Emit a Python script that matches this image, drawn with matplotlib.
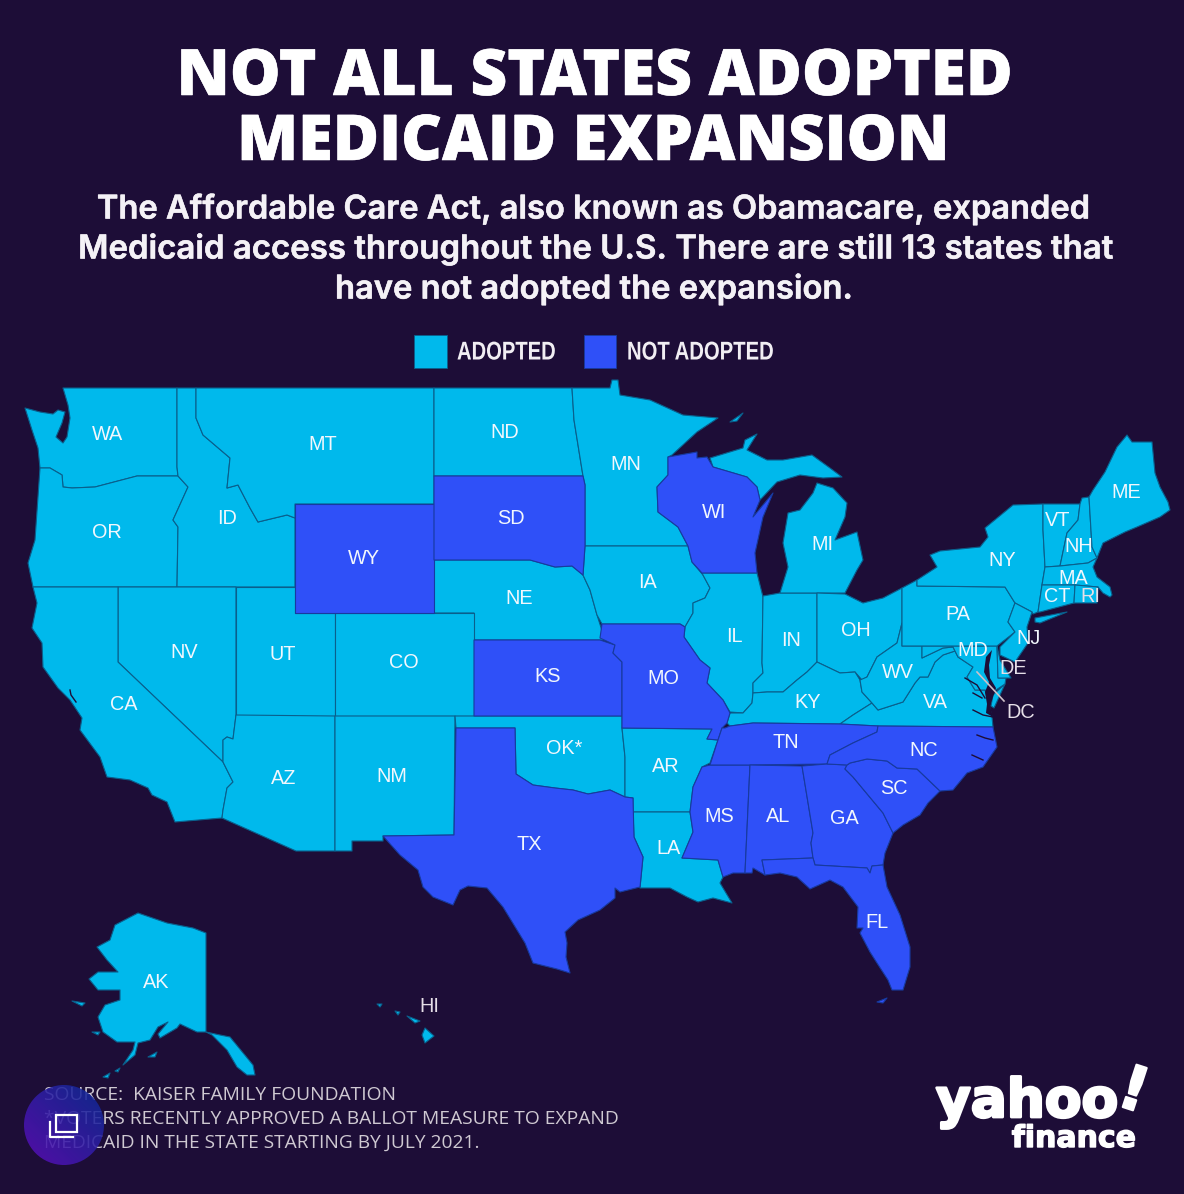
import numpy as np
import matplotlib
matplotlib.use("Agg")
import matplotlib.pyplot as plt
from matplotlib.patches import Polygon, Rectangle, Circle
from matplotlib.patheffects import AbstractPathEffect, withStroke
from matplotlib.transforms import Affine2D

BG = "#1d0d37"
CYAN = "#00b9ec"
BLUE = "#2f50f8"
EDGE_C = "#0a5f8c"
EDGE_B = "#173a9f"

# ---- state outlines (x, y in image pixels) ----
WA = [(63,388),(177,388),(177,467),(178,476),(137,476),(95,487),(72,488),(63,487),(62,475),(50,468),(40,468),(38,448),(32,430),(25,408),(40,412),(53,414),(58,410),(65,412),(62,423),(56,437),(63,443),(67,437),(70,418),(68,405)]
OR = [(40,468),(50,468),(62,475),(63,487),(72,488),(95,487),(137,476),(178,476),(188,487),(173,520),(178,527),(177,587),(33,587),(28,563),(35,540)]
ID = [(177,388),(196,388),(196,418),(203,435),(230,458),(227,488),(238,485),(250,508),(258,522),(287,515),(295,518),(295,587),(177,587),(178,527),(173,520),(188,487),(178,476),(177,467)]
MT = [(196,388),(434,388),(434,504),(295,504),(295,518),(287,515),(258,522),(250,508),(238,485),(227,488),(230,458),(203,435),(196,418)]
WY = [(295,504),(434,504),(434,613),(295,613)]
ND = [(434,388),(572,388),(574,420),(583,476),(434,476)]
SD = [(434,476),(583,476),(585,485),(585,546),(583,575),(572,566),(555,567),(530,560),(434,560)]
NE = [(434,560),(530,560),(555,567),(572,566),(583,575),(590,590),(597,615),(605,640),(474,640),(474,613),(434,613)]
MN = [(572,388),(610,388),(612,380),(618,380),(620,395),(650,400),(683,415),(718,418),(697,432),(672,455),(668,457),(668,475),(657,487),(658,512),(678,527),(688,546),(585,546),(585,485),(583,476),(574,420)]
IA = [(585,546),(688,546),(692,562),(703,575),(710,588),(705,598),(693,603),(693,613),(685,627),(680,624),(602,624),(597,615),(590,590),(583,575)]
WI = [(668,457),(697,452),(697,458),(707,457),(713,467),(747,477),(757,487),(760,500),(753,517),(773,493),(763,517),(755,553),(757,573),(702,573),(692,562),(688,546),(678,527),(658,512),(657,487),(668,475)]
IL = [(702,573),(757,573),(763,597),(762,663),(763,673),(753,683),(753,693),(752,703),(743,713),(730,712),(723,700),(707,683),(710,668),(700,660),(684,637),(685,627),(693,613),(693,603),(705,598),(710,588),(703,575)]
IN = [(763,596),(780,593),(817,593),(817,662),(807,672),(797,680),(783,692),(767,692),(753,693),(753,683),(763,673),(762,663)]
MI_L = [(780,593),(788,567),(783,543),(788,513),(800,510),(813,493),(817,483),(833,488),(847,503),(845,517),(835,540),(857,532),(863,560),(857,570),(845,593),(817,593)]
MI_U = [(710,458),(743,448),(745,440),(757,434),(747,450),(767,460),(783,460),(812,455),(830,468),(842,477),(823,478),(800,475),(777,482),(760,500),(757,487),(747,477),(713,467)]
MI_I = [(730,422),(743,413),(737,421)]
OH = [(817,593),(845,594),(863,603),(883,598),(902,588),(902,623),(897,643),(877,657),(867,677),(862,680),(855,672),(840,673),(817,662)]
KY = [(730,713),(727,723),(730,726),(753,723),(840,724),(853,715),(872,703),(862,692),(860,680),(855,672),(840,673),(817,662),(807,672),(797,680),(783,692),(767,692),(753,693),(752,703),(743,713)]
NV = [(118,587),(236,587),(236,715),(233,739),(227,737),(223,740),(223,762),(118,662)]
CA = [(33,587),(118,587),(118,662),(223,762),(233,782),(227,788),(223,810),(222,818),(175,822),(167,802),(152,795),(148,788),(130,780),(107,777),(100,757),(80,730),(82,718),(70,700),(58,688),(43,667),(42,643),(32,628),(37,603)]
UT = [(236,587),(295,587),(295,613),(335,613),(335,716),(236,716)]
CO = [(335,613),(474,613),(474,716),(335,716)]
AZ = [(236,715),(335,716),(335,851),(296,851),(222,818),(223,810),(227,788),(233,782),(223,762),(223,740),(227,737),(233,739)]
NM = [(335,716),(455,716),(454,835),(383,836),(383,841),(352,841),(352,851),(335,851)]
KS = [(474,640),(600,640),(615,645),(613,653),(622,662),(622,716),(474,716)]
OK = [(455,716),(622,716),(622,728),(625,757),(625,797),(610,790),(588,794),(573,790),(555,788),(533,785),(516,774),(515,728),(456,728)]
TX = [(456,728),(515,728),(516,774),(533,785),(555,788),(573,790),(588,794),(610,790),(625,797),(633,798),(634,837),(643,857),(640,887),(620,892),(615,888),(615,898),(600,910),(578,920),(565,932),(567,943),(566,957),(570,973),(557,969),(533,963),(525,943),(503,907),(487,888),(468,886),(460,890),(453,905),(433,897),(423,887),(418,870),(400,855),(383,836),(454,835)]
MO = [(602,624),(680,624),(685,627),(684,637),(700,660),(710,668),(707,683),(723,700),(730,713),(727,723),(722,728),(718,740),(707,739),(712,729),(622,728),(622,662),(613,653),(615,645),(600,638)]
AR = [(622,728),(712,729),(707,739),(718,740),(710,763),(702,767),(693,787),(690,812),(633,812),(633,798),(625,797),(625,757)]
LA = [(633,812),(690,812),(693,832),(682,858),(718,860),(723,877),(720,883),(732,903),(713,898),(698,902),(687,897),(670,888),(640,888),(643,857),(634,837)]
MS = [(710,765),(750,765),(745,873),(733,873),(723,877),(718,860),(682,858),(693,832),(690,812),(693,787),(702,767)]
TN = [(725,728),(730,726),(753,723),(840,724),(878,726),(877,732),(853,743),(830,755),(827,764),(750,765),(710,765),(717,743),(722,728)]
AL = [(750,765),(802,766),(813,833),(811,843),(813,858),(762,860),(765,875),(753,868),(752,873),(745,873)]
GA = [(802,766),(827,764),(847,765),(845,769),(853,777),(883,813),(893,833),(885,853),(883,865),(872,866),(870,873),(867,868),(815,865),(813,858),(811,843),(813,833)]
FL = [(762,860),(813,858),(815,865),(867,868),(870,873),(872,866),(883,865),(887,887),(900,915),(910,947),(910,967),(903,990),(892,990),(888,980),(877,963),(870,952),(860,933),(863,928),(857,928),(858,907),(843,887),(830,880),(810,889),(797,877),(780,873),(765,875)]
FL_K = [(877,1002),(887,998),(883,1003)]
SC = [(847,765),(850,763),(867,759),(887,761),(897,768),(917,769),(940,791),(928,803),(920,815),(903,825),(893,833),(883,813),(853,777),(845,769)]
NC = [(878,726),(993,727),(997,747),(983,767),(967,773),(953,790),(940,791),(917,769),(897,768),(887,761),(867,759),(850,763),(847,765),(827,764),(830,755),(853,743),(877,732)]
VA = [(840,724),(853,715),(872,703),(878,710),(903,702),(915,683),(920,677),(928,677),(935,662),(943,655),(955,651),(958,657),(973,667),(967,677),(975,690),(985,690),(992,717),(993,727),(878,726)]
VA_E = [(1005,684),(1000,695),(994,708),(991,706),(993,695)]
WV = [(902,623),(902,646),(922,646),(922,658),(943,648),(953,647),(955,651),(943,655),(935,662),(928,677),(920,677),(915,683),(903,702),(878,710),(872,703),(862,692),(860,680),(867,677),(877,657),(897,643)]
MD = [(922,646),(997,646),(998,678),(1006,678),(1005,684),(993,692),(985,690),(975,690),(967,677),(973,667),(958,657),(955,651),(953,647),(943,648),(922,658)]
DE = [(997,646),(1000,660),(1011,678),(998,678)]
PA = [(902,588),(917,580),(917,586),(1005,587),(1015,603),(1008,622),(1015,632),(997,646),(902,646)]
NY = [(917,586),(917,580),(937,567),(930,555),(940,551),(980,547),(988,537),(985,528),(1013,505),(1043,504),(1043,530),(1045,567),(1042,585),(1038,612),(1033,614),(1032,612),(1015,603),(1005,587)]
NY_L = [(1035,618),(1067,612),(1040,623),(1035,622)]
NJ = [(1015,603),(1032,612),(1027,627),(1028,643),(1015,662),(1000,655),(1000,647),(1015,632),(1008,622)]
VT = [(1043,504),(1080,504),(1078,520),(1067,533),(1060,566),(1045,567),(1043,530)]
NH = [(1082,498),(1089,497),(1092,547),(1097,558),(1088,563),(1060,566),(1067,533),(1078,520),(1080,504)]
ME = [(1089,497),(1093,490),(1105,472),(1117,447),(1127,435),(1132,442),(1152,442),(1155,473),(1160,487),(1168,502),(1170,510),(1160,517),(1137,527),(1125,532),(1103,543),(1097,558),(1092,547)]
MA = [(1045,567),(1060,566),(1088,563),(1097,558),(1093,567),(1097,577),(1110,587),(1112,595),(1110,597),(1103,593),(1098,587),(1075,585),(1042,585)]
CT = [(1042,585),(1075,585),(1074,603),(1040,612),(1038,612)]
RI = [(1075,585),(1098,587),(1097,603),(1074,603)]
AK = [(206,933),(206,1032),(197,1032),(180,1024),(177,1028),(160,1038),(158,1034),(168,1022),(158,1027),(150,1040),(138,1043),(135,1055),(123,1065),(133,1050),(135,1042),(117,1042),(103,1032),(98,1017),(105,1005),(120,1000),(120,990),(98,990),(89,979),(98,972),(118,972),(107,960),(97,947),(110,940),(115,925),(138,913),(167,923),(193,928)]
AK_P = [(206,1032),(220,1035),(230,1037),(253,1065),(255,1075),(247,1075),(237,1067),(227,1050),(212,1035)]
AK_A = [(120,1068),(115,1071),(118,1072)]
AK_B = [(110,1073),(103,1077),(108,1078)]
AK_C = [(148,1057),(157,1052),(155,1057)]
AK_D = [(92,1032),(100,1032),(98,1035)]
AK_E = [(72,1001),(85,1003),(82,1006)]
HI_A = [(425,1028),(434,1036),(425,1043),(422,1035)]
HI_B = [(407,1016),(420,1021),(415,1023)]
HI_C = [(395,1011),(400,1012),(398,1015)]
HI_D = [(377,1004),(382,1004),(380,1007)]

ADOPTED_SHAPES = [WA, OR, ID, MT, ND, NE, MN, IA, IL, IN, MI_L, MI_U, MI_I, OH, KY, NV, CA, UT, CO, AZ, NM, OK, AR, LA, VA, VA_E, WV, MD, DE, PA, NY, NY_L, NJ, VT, NH, ME, MA, CT, RI, AK, AK_P, AK_A, AK_B, AK_C, AK_D, AK_E, HI_A, HI_B, HI_C, HI_D]
NOT_ADOPTED_SHAPES = [WY, SD, WI, KS, TX, MO, MS, TN, AL, GA, FL, FL_K, SC, NC]

# water drawn over the land
CHESAPEAKE = [(992,650),(986,657),(984,672),(989,682),(985,692),(987,704),(986,713),(993,717),(990,706),(993,697),(996,688),(990,678),(989,665)]
PAMLICO_A = [(977,735),(985,738),(993,740)]
PAMLICO_B = [(972,755),(983,760)]
POTOMAC = [(965,678),(977,685),(985,698)]
RAPPAHANNOCK = [(973,693),(982,698)]
JAMES = [(973,710),(983,715),(993,717)]
SF_BAY = [(70,690),(71,695),(76,702)]

# ---- labels ----
STATE_LABELS = ["WA","OR","ID","MT","WY","ND","SD","NE","MN","IA","WI","IL","IN","MI","OH","KY","NV","CA","UT","CO","AZ","NM","KS","OK*","TX","MO","AR","LA","MS","TN","AL","GA","FL","SC","NC","VA","WV","PA","NY","VT","NH","ME","MA","CT","RI","NJ","DE","MD","DC","AK","HI"]
LABEL_X = [108,107,227,323,364,505,511,519,626,648,714,734,791,822,856,808,184,124,283,404,284,392,548,564,529,663,666,669,719,786,778,844,877,894,924,935,898,958,1002,1058,1079,1126,1073,1057,1090,1028,1013,973,1021,156,429]
LABEL_Y = [433,530,516,442,556,430,516,596,462,581,511,634,638,543,628,700,651,703,652,661,777,775,674,747,843,677,764,846,814,741,814,817,921,787,748,700,671,613,558,519,544,490,576,594,594,637,666,649,710,981,1005]

TITLE = ["NOT ALL STATES ADOPTED", "MEDICAID EXPANSION"]
SUBTITLE = ["The Affordable Care Act, also known as Obamacare, expanded",
            "Medicaid access throughout the U.S. There are still 13 states that",
            "have not adopted the expansion."]
LEGEND = ["ADOPTED", "NOT ADOPTED"]
FOOTER = ["SOURCE:  KAISER FAMILY FOUNDATION",
          "*VOTERS RECENTLY APPROVED A BALLOT MEASURE TO EXPAND",
          "MEDICAID IN THE STATE STARTING BY JULY 2021."]

fig = plt.figure(figsize=(11.84, 11.94), dpi=100, facecolor=BG)
ax = fig.add_axes([0, 0, 1, 1])
ax.set_xlim(0, 1184)
ax.set_ylim(1194, 0)
ax.axis("off")

for shape in ADOPTED_SHAPES:
    ax.add_patch(Polygon(shape, closed=True, fc=CYAN, ec=EDGE_C, lw=0.8, joinstyle="round", zorder=2))
for shape in NOT_ADOPTED_SHAPES:
    ax.add_patch(Polygon(shape, closed=True, fc=BLUE, ec=EDGE_B, lw=0.8, joinstyle="round", zorder=3))
ax.add_patch(Polygon(CHESAPEAKE, closed=True, fc=BG, ec="none", zorder=4))
for riv in [PAMLICO_A, PAMLICO_B, POTOMAC, RAPPAHANNOCK, JAMES, SF_BAY]:
    ax.plot(*zip(*riv), color=BG, lw=1.0, zorder=4)


class Squeeze(AbstractPathEffect):
    """Draw text narrower around a centre (there is no condensed font here)."""

    def __init__(self, sx, cx):
        super().__init__()
        self.sx, self.cx = sx, cx

    def draw_path(self, renderer, gc, tpath, affine, rgbFace=None):
        a = affine + Affine2D().translate(-self.cx, 0).scale(self.sx, 1).translate(self.cx, 0)
        renderer.draw_path(gc, tpath, a, rgbFace)


def fit(text, x0, x1, yc, va="center_baseline", **kw):
    t = ax.text((x0 + x1) / 2, yc, text, ha="center", va=va, **kw)
    r = fig.canvas.get_renderer()
    for _ in range(3):
        w = t.get_window_extent(r).width
        t.set_fontsize(t.get_fontsize() * (x1 - x0) / w)
    return t


def condensed(text, x0, x1, yc, **kw):
    cx = (x0 + x1) / 2
    t = ax.text(cx, yc, text, ha="center", va="center_baseline", **kw)
    w = t.get_window_extent(fig.canvas.get_renderer()).width
    t.set_path_effects([Squeeze((x1 - x0) / w, ax.transData.transform((cx, 0))[0])])
    return t


for lab, x, y in zip(STATE_LABELS, LABEL_X, LABEL_Y):
    col = "#e6dfe8" if lab in ("DC", "DE", "RI", "HI") else "#f2f7fd"
    ax.text(x, y, lab, ha="center", va="center_baseline", color=col, fontsize=14.3,
            family="Liberation Sans", zorder=6)
ax.plot([977, 1004], [672, 701], color="#cdbfc8", lw=1.2, zorder=5)

heavy = [withStroke(linewidth=0.4, foreground="white")]
t1 = fit(TITLE[0], 176, 1013, 70.5, color="white", family="Open Sans", weight="extra bold", fontsize=44)
t2 = fit(TITLE[1], 237, 950, 135.5, color="white", family="Open Sans", weight="extra bold", fontsize=44)
t1.set_path_effects(heavy)
t2.set_path_effects(heavy)
medium = [withStroke(linewidth=0.4, foreground="#f4f1f6")]
for line, x0, x1, y in zip(SUBTITLE, [97, 78, 335], [1091, 1113, 853], [206, 246, 286]):
    fit(line, x0, x1, y, color="#f4f1f6", family="Inter", weight="semibold", fontsize=22).set_path_effects(medium)

ax.add_patch(Rectangle((414, 335), 33, 33, fc=CYAN, ec=EDGE_C, lw=0.6))
ax.add_patch(Rectangle((584, 335), 32, 33, fc=BLUE, ec=EDGE_B, lw=0.6))
condensed(LEGEND[0], 457, 556, 350, color="#f1eef3", family="Liberation Sans", weight="bold", fontsize=18.5)
condensed(LEGEND[1], 627, 774, 350, color="#f1eef3", family="Liberation Sans", weight="bold", fontsize=18.5)

for line, x1, y in zip(FOOTER, [395, 619, 480], [1093, 1117, 1141]):
    fit(line, 44, x1, y, color="#cfc9d2", family="Open Sans", fontsize=14, zorder=7)

# logo
logo = fit("yahoo", 936, 1118, 1117, va="baseline", color="white", family="DejaVu Sans", weight="bold", fontsize=40)
logo.set_path_effects([withStroke(linewidth=2.0, foreground="white")])
ax.text(1133, 1093, "!", ha="center", va="center", color="white", family="DejaVu Sans", weight="bold",
        fontsize=44, rotation=-18).set_path_effects([withStroke(linewidth=1.5, foreground="white")])
fin = fit("finance", 1012, 1136, 1147, va="baseline", color="white", family="DejaVu Sans", weight="bold", fontsize=22)
fin.set_path_effects([withStroke(linewidth=1.0, foreground="white")])

# viewer badge over the footer
g = np.linspace(0, 1, 64)
gx, gy = np.meshgrid(g, g)
mix = np.clip((gy + (1 - gx)) / 2, 0, 1)[..., None]
rgb = (1 - mix) * np.array([0.04, 0.17, 0.58]) + mix * np.array([0.36, 0.05, 0.72])
rgba = np.dstack([rgb, np.full(gx.shape, 0.88)])
im = ax.imshow(rgba, extent=(24, 104, 1165, 1085), zorder=8, interpolation="bilinear", aspect="auto")
im.set_clip_path(Circle((64, 1125), 40, transform=ax.transData))
ax.set_xlim(0, 1184)
ax.set_ylim(1194, 0)
ax.add_patch(Rectangle((56, 1115), 21, 17, fc="none", ec="white", lw=1.6, zorder=9))
ax.plot([50, 50, 73], [1122, 1137, 1137], color="white", lw=1.6, zorder=9)

fig.savefig("out.png", dpi=100, facecolor=BG)
